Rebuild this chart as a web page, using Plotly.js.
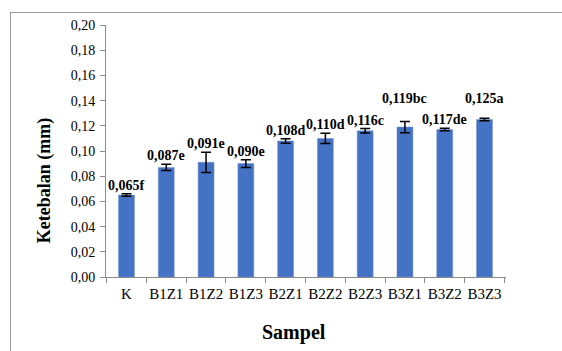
<!DOCTYPE html>
<html>
<head>
<meta charset="utf-8">
<script src="https://cdn.plot.ly/plotly-3.0.1.min.js"></script>
<style>
html,body{margin:0;padding:0;background:#fff;}
#wrap{position:relative;width:562px;height:351px;overflow:hidden;}
#chart{position:absolute;left:0;top:0;width:562px;height:351px;}
#frame{position:absolute;left:10px;top:12px;width:600px;height:400px;border:1.5px solid #9a9a9a;pointer-events:none;}
</style>
</head>
<body>
<div id="wrap"><div id="chart"></div><div id="frame"></div></div>
<script>
const categories = ["K","B1Z1","B1Z2","B1Z3","B2Z1","B2Z2","B2Z3","B3Z1","B3Z2","B3Z3"];
const means = [0.065,0.087,0.091,0.090,0.108,0.110,0.116,0.119,0.117,0.125];
const errors = [0.001,0.0025,0.008,0.003,0.0018,0.004,0.0018,0.0045,0.001,0.001];
const labels = ["0,065f","0,087e","0,091e","0,090e","0,108d","0,110d","0,116c","0,119bc","0,117de","0,125a"];
const yTicks = [0,0.02,0.04,0.06,0.08,0.10,0.12,0.14,0.16,0.18,0.20];
const yTickText = ["0,00","0,02","0,04","0,06","0,08","0,10","0,12","0,14","0,16","0,18","0,20"];

const font = "'Times New Roman', 'Liberation Serif', serif";
const W = 562, H = 351;
const margin = {l:106, r:56, t:25, b:74, pad:0};
const yRange = [0, 0.2];
const labelSize = 14;

// label placement: above error bar, lifted above neighbour if they would collide
const plotW = W - margin.l - margin.r, plotH = H - margin.t - margin.b;
const pxPerUnit = plotH / (yRange[1] - yRange[0]);
const catW = plotW / categories.length;
const ctx = document.createElement("canvas").getContext("2d");
ctx.font = "bold " + labelSize + "px 'Liberation Serif'";
const boxH = labelSize * 1.3 + 2;
const placed = [];
const shifts = categories.map((c, i) => {
  const topVal = means[i] + errors[i];
  const anchorPx = plotH - topVal * pxPerUnit;
  let bottom = anchorPx + 1;
  const w = ctx.measureText(labels[i]).width;
  const xc = (i + 0.5) * catW;
  if (i > 0) {
    const p = placed[i - 1];
    const hOverlap = Math.abs(xc - p.xc) < (w + p.w) / 2;
    const vOverlap = (bottom - boxH) < p.bottom && bottom > (p.bottom - boxH);
    if (hOverlap && vOverlap) bottom = p.bottom - boxH - 1;
  }
  placed.push({xc, w, bottom});
  return anchorPx - bottom;
});

const trace = {
  type:"bar", x:categories, y:means,
  marker:{color:"#4472C4", line:{color:"#6d8fd0", width:0.5}},
  error_y:{type:"data", array:errors, visible:true, color:"#000", thickness:1.5, width:5},
  hoverinfo:"none"
};
const annotations = categories.map((c,i)=>({
  x:c, y:means[i]+errors[i], xref:"x", yref:"y",
  text:"<b>"+labels[i]+"</b>", showarrow:false, yanchor:"bottom", yshift:shifts[i],
  font:{family:font, size:labelSize, color:"#000"}
}));
annotations.push({
  xref:"paper", yref:"paper", x:0.471, y:-0.222, xanchor:"center", yanchor:"middle",
  text:"<b>Sampel</b>", showarrow:false, font:{family:font, size:20, color:"#000"}
});
annotations.push({
  xref:"paper", yref:"paper", x:-0.155, y:0.38, xanchor:"center", yanchor:"middle",
  text:"<b>Ketebalan (mm)</b>", textangle:-90, showarrow:false, font:{family:font, size:18, color:"#000"}
});
const layout = {
  width:W, height:H, margin:margin,
  paper_bgcolor:"#fff", plot_bgcolor:"#fff",
  bargap:0.6, showlegend:false,
  font:{family:font, size:13, color:"#000"},
  xaxis:{
    type:"category", tickson:"boundaries", ticks:"outside", ticklen:5, tickcolor:"#8c8c8c",
    showline:true, linecolor:"#8c8c8c", linewidth:1, showgrid:false, zeroline:false,
    tickangle:0, ticklabelstandoff:3,
    tickfont:{family:font, size:15, color:"#000"}
  },
  yaxis:{
    range:yRange, tickvals:yTicks, ticktext:yTickText, ticks:"outside", ticklen:5, tickcolor:"#8c8c8c",
    showline:true, linecolor:"#8c8c8c", linewidth:1, showgrid:false, zeroline:false,
    ticklabelstandoff:2,
    tickfont:{family:font, size:14, color:"#000"}
  },
  annotations:annotations
};
Plotly.newPlot("chart",[trace],layout,{staticPlot:true, displayModeBar:false});
</script>
</body>
</html>
